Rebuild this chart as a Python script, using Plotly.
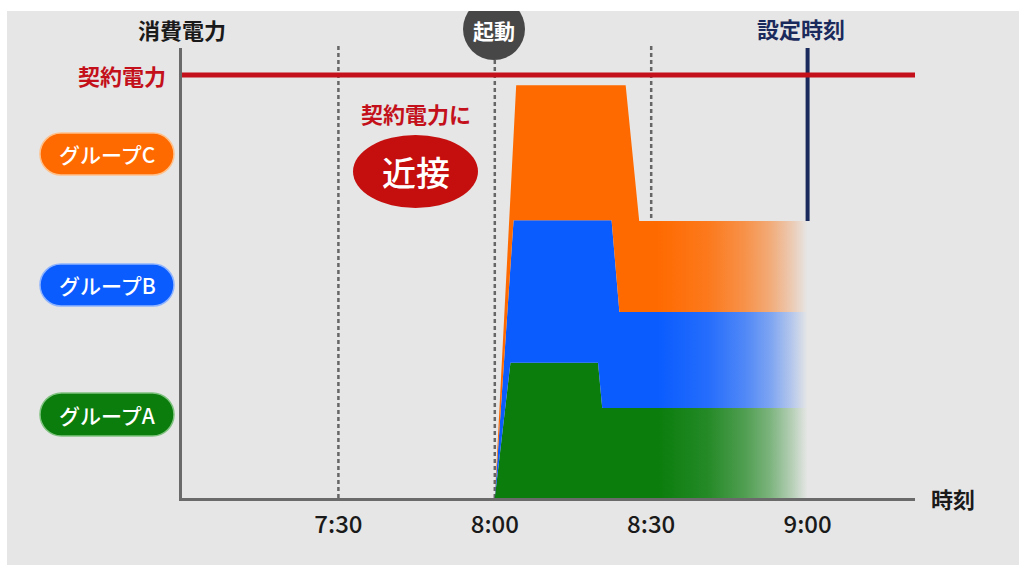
import plotly.graph_objects as go

W, H = 1019, 565
FONT = "Noto Sans CJK JP, Noto Sans, sans-serif"

# time axis in minutes after 7:00
tick_minutes = [30, 60, 90, 120]
tick_labels = ["7:30", "8:00", "8:30", "9:00"]
guide_minutes = [30, 60, 90]
startup_minute = 60
setpoint_minute = 120
x_max = 140.6

# power in % of the contracted demand
contract_power = 100
y_max = 106.4

# upper edge of each stacked band (A at the bottom, C on top)
a_time = [60, 63.0, 79.8, 80.6, 120]
a_power = [0, 32.0, 32.0, 21.3, 21.3]
b_time = [60, 63.6, 82.4, 83.9, 120]
b_power = [0, 65.7, 65.7, 44.0, 44.0]
c_time = [60, 64.1, 85.1, 87.7, 120]
c_power = [0, 97.6, 97.6, 65.5, 65.5]

group_names = ["グループA", "グループB", "グループC"]
group_rgb = [(10, 125, 12), (10, 92, 255), (255, 106, 0)]
group_edge = ["#7fc27f", "#8fb4ff", "#ffc08a"]

# opacity stops of the fade towards the set time
fade_stops = [(0.0, 1.0), (0.52, 1.0), (0.68, 0.88), (0.8, 0.68),
              (0.88, 0.48), (0.95, 0.22), (1.0, 0.0)]

RED = "#c3101a"
NAVY = "#1b2a5c"
AXIS = "#6a6a6a"

# plot area in pixels
PX0, PX1, PY0, PY1 = 182, 915, 48, 498


def fx(px):
    return px / W


def fy(py):
    return 1 - py / H


def gradient(rgb):
    r, g, b = rgb
    return dict(type="horizontal", start=startup_minute, stop=setpoint_minute,
                colorscale=[[s, f"rgba({r},{g},{b},{a})"] for s, a in fade_stops])


fig = go.Figure()
bands = [(a_time, a_power, "tozeroy"), (b_time, b_power, "tonexty"), (c_time, c_power, "tonexty")]
for (t, v, fill), name, rgb in zip(bands, group_names, group_rgb):
    fig.add_trace(go.Scatter(
        x=t, y=v, mode="lines", name=name, line=dict(width=0),
        fill=fill, fillgradient=gradient(rgb), hoverinfo="skip", showlegend=False,
    ))

shapes = []
# dashed half-hour guides
for m in guide_minutes:
    shapes.append(dict(type="line", xref="x", yref="paper", x0=m, x1=m,
                       y0=fy(PY1), y1=fy(44), layer="below",
                       line=dict(color="#666666", width=2.5, dash="4px,3px")))
# set time marker
shapes.append(dict(type="line", xref="x", yref="y", x0=setpoint_minute, x1=setpoint_minute,
                   y0=c_power[-1], y1=y_max, line=dict(color=NAVY, width=4)))
# contracted demand
shapes.append(dict(type="line", xref="x", yref="y", x0=0, x1=x_max,
                   y0=contract_power, y1=contract_power, line=dict(color=RED, width=5)))
# startup badge
shapes.append(dict(type="circle", xref="paper", yref="paper", layer="below",
                   x0=fx(463), x1=fx(525), y0=fy(60), y1=fy(-2),
                   fillcolor="#474747", line=dict(width=0)))
# warning ellipse
shapes.append(dict(type="circle", xref="paper", yref="paper",
                   x0=fx(353), x1=fx(478), y0=fy(208), y1=fy(135),
                   fillcolor="#c50e0e", line=dict(width=0)))


def pill_path(x0, y0, x1, y1):
    r = (y1 - y0) / 2
    k = 0.5523 * r
    cy = (y0 + y1) / 2
    pts = [
        ("M", [(x0 + r, y0)]),
        ("L", [(x1 - r, y0)]),
        ("C", [(x1 - r + k, y0), (x1, cy - k), (x1, cy)]),
        ("C", [(x1, cy + k), (x1 - r + k, y1), (x1 - r, y1)]),
        ("L", [(x0 + r, y1)]),
        ("C", [(x0 + r - k, y1), (x0, cy + k), (x0, cy)]),
        ("C", [(x0, cy - k), (x0 + r - k, y0), (x0 + r, y0)]),
    ]
    out = []
    for cmd, ps in pts:
        out.append(cmd + " ".join(f"{fx(px):.5f},{fy(py):.5f}" for px, py in ps))
    return " ".join(out) + " Z"


def label(text, px, py, size=22, color="#1a1a1a", bold=True, weight=None):
    font = dict(family=FONT, size=size, color=color)
    if weight:
        font["weight"] = weight
    annotations.append(dict(text=f"<b>{text}</b>" if bold else text, x=fx(px), y=fy(py),
                            xref="paper", yref="paper", xanchor="center", yanchor="middle",
                            showarrow=False, font=font))


annotations = []
pill_rows = [(393, 436), (264, 306), (133, 175)]
for (y0, y1), name, rgb, edge in zip(pill_rows, group_names, group_rgb, group_edge):
    shapes.append(dict(type="path", xref="paper", yref="paper", path=pill_path(40, y0, 174, y1),
                       fillcolor="rgb(%d,%d,%d)" % rgb, line=dict(color=edge, width=1.5)))
    label(name, 107, (y0 + y1) / 2, size=21, color="white", bold=False, weight=500)

# white frame at the top and left
shapes.append(dict(type="rect", xref="paper", yref="paper", x0=0, x1=1, y0=fy(11), y1=1.01,
                   fillcolor="white", line=dict(width=0)))
shapes.append(dict(type="rect", xref="paper", yref="paper", x0=-0.01, x1=fx(7), y0=-0.01, y1=1.01,
                   fillcolor="white", line=dict(width=0)))

label("消費電力", 182, 29)
label("契約電力", 122, 75, color=RED)
label("起動", 494, 30, size=21, color="white")
label("設定時刻", 801, 28, color=NAVY)
label("契約電力に", 416, 113, color=RED)
label("近接", 416, 172, size=34, color="white", bold=False, weight=500)
label("時刻", 953, 498)

fig.update_layout(
    width=W, height=H,
    margin=dict(l=0, r=0, t=0, b=0, pad=0),
    paper_bgcolor="#e6e6e6", plot_bgcolor="rgba(0,0,0,0)",
    shapes=shapes, annotations=annotations, showlegend=False,
    font=dict(family=FONT),
)
fig.update_xaxes(
    domain=[fx(PX0), fx(PX1)], range=[0, x_max],
    tickvals=tick_minutes, ticktext=tick_labels, ticks="",
    tickfont=dict(family=FONT, size=24, color="#1a1a1a", weight=500), ticklabelstandoff=3,
    showgrid=False, zeroline=False, showline=True, linecolor=AXIS, linewidth=3,
    fixedrange=True,
)
fig.update_yaxes(
    domain=[fy(PY1), fy(PY0)], range=[0, y_max],
    showticklabels=False, ticks="",
    showgrid=False, zeroline=False, showline=True, linecolor=AXIS, linewidth=3,
    fixedrange=True,
)

fig.write_html("out.html", config={"displayModeBar": False})
